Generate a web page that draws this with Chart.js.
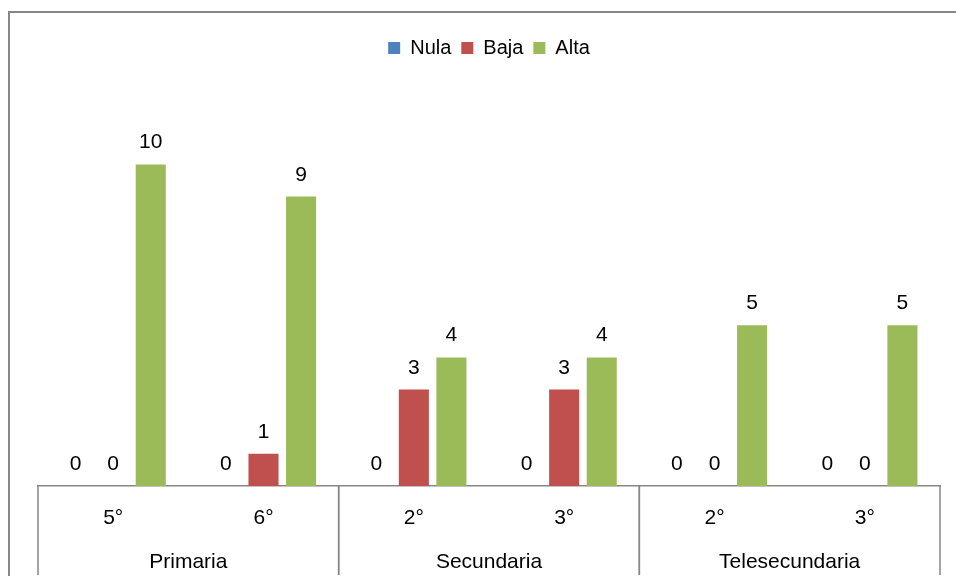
<!DOCTYPE html>
<html>
<head>
<meta charset="utf-8">
<script src="https://cdn.jsdelivr.net/npm/chart.js@4"></script>
<style>
  html, body { margin: 0; padding: 0; background: #fff; }
  #wrap { width: 956px; height: 580px; }
</style>
</head>
<body>
<div id="wrap"><canvas id="chart0"></canvas></div>
<script>
// grades on the x axis, grouped by school level
const grades = ['5°', '6°', '2°', '3°', '2°', '3°'];
const levels = ['Primaria', 'Secundaria', 'Telesecundaria'];
const levelSizes = [2, 2, 2];

// counts per level of answer
const nula = [0, 0, 0, 0, 0, 0];
const baja = [0, 1, 3, 3, 0, 0];
const alta = [10, 9, 4, 4, 5, 5];

const FONT = "'Liberation Sans Narrow', 'Arial Narrow', 'Liberation Sans', Arial, sans-serif";
const AXIS_GREY = '#878787';

// grey frame around the whole chart
const frame = {
    id: 'frame',
    beforeDraw(chart) {
        const ctx = chart.ctx;
        ctx.save();
        ctx.strokeStyle = AXIS_GREY;
        ctx.lineWidth = 2;
        ctx.beginPath();
        ctx.moveTo(9, 576);
        ctx.lineTo(9, 12);
        ctx.lineTo(chart.width + 5, 12);
        ctx.stroke();
        ctx.restore();
    }
};

// numbers above each bar
const valueLabels = {
    id: 'valueLabels',
    afterDatasetsDraw(chart) {
        const ctx = chart.ctx;
        ctx.save();
        ctx.font = '21px ' + FONT;
        ctx.fillStyle = '#000';
        ctx.textAlign = 'center';
        ctx.textBaseline = 'alphabetic';
        chart.data.datasets.forEach((ds, i) => {
            chart.getDatasetMeta(i).data.forEach((bar, j) => {
                ctx.fillText(String(ds.data[j]), bar.x, bar.y - 16);
            });
        });
        ctx.restore();
    }
};

// second row of the category axis: level names + separators
const levelAxis = {
    id: 'levelAxis',
    afterDraw(chart) {
        const x = chart.scales.x;
        const ctx = chart.ctx;
        const top = chart.chartArea.bottom;
        const edge = (i) => {
            if (i <= 0) return chart.chartArea.left;
            if (i >= grades.length) return chart.chartArea.right;
            return (x.getPixelForValue(i - 1) + x.getPixelForValue(i)) / 2;
        };
        ctx.save();
        ctx.strokeStyle = AXIS_GREY;
        ctx.lineWidth = 1.5;
        ctx.font = '21px ' + FONT;
        ctx.fillStyle = '#000';
        ctx.textAlign = 'center';
        ctx.textBaseline = 'alphabetic';
        let start = 0;
        levels.forEach((name, k) => {
            const end = start + levelSizes[k];
            const x0 = edge(start), x1 = edge(end);
            ctx.beginPath();
            ctx.moveTo(x0, top);
            ctx.lineTo(x0, 575);
            ctx.moveTo(x1, top);
            ctx.lineTo(x1, 575);
            ctx.stroke();
            ctx.fillText(name, (x0 + x1) / 2, 568);
            start = end;
        });
        ctx.restore();
    }
};

const canvas = document.getElementById('chart0').getContext('2d');
const chart = new Chart(canvas, {
    type: 'bar',
    data: {
        labels: grades,
        datasets: [
            { label: 'Nula', data: nula, backgroundColor: '#4F81BD' },
            { label: 'Baja', data: baja, backgroundColor: '#C0504D' },
            { label: 'Alta', data: alta, backgroundColor: '#9BBB59' }
        ]
    },
    options: {
        responsive: true,
        maintainAspectRatio: false,
        animation: false,
        categoryPercentage: 0.75,
        barPercentage: 0.8,
        layout: {
            padding: { left: 38, right: 16, top: 28, bottom: 0 }
        },
        plugins: {
            legend: {
                position: 'top',
                labels: {
                    boxWidth: 12,
                    boxHeight: 12,
                    padding: 10,
                    color: '#000',
                    font: { family: FONT, size: 20 }
                }
            },
            tooltip: { enabled: false }
        },
        scales: {
            x: {
                grid: { display: false, drawTicks: false },
                border: { display: true, color: AXIS_GREY, width: 1.5 },
                ticks: {
                    color: '#000',
                    padding: 20,
                    font: { family: FONT, size: 21 }
                },
                afterFit(scale) { scale.height = 94; }
            },
            y: {
                display: false,
                min: 0,
                max: 13
            }
        }
    },
    plugins: [frame, valueLabels, levelAxis]
});
</script>
</body>
</html>
